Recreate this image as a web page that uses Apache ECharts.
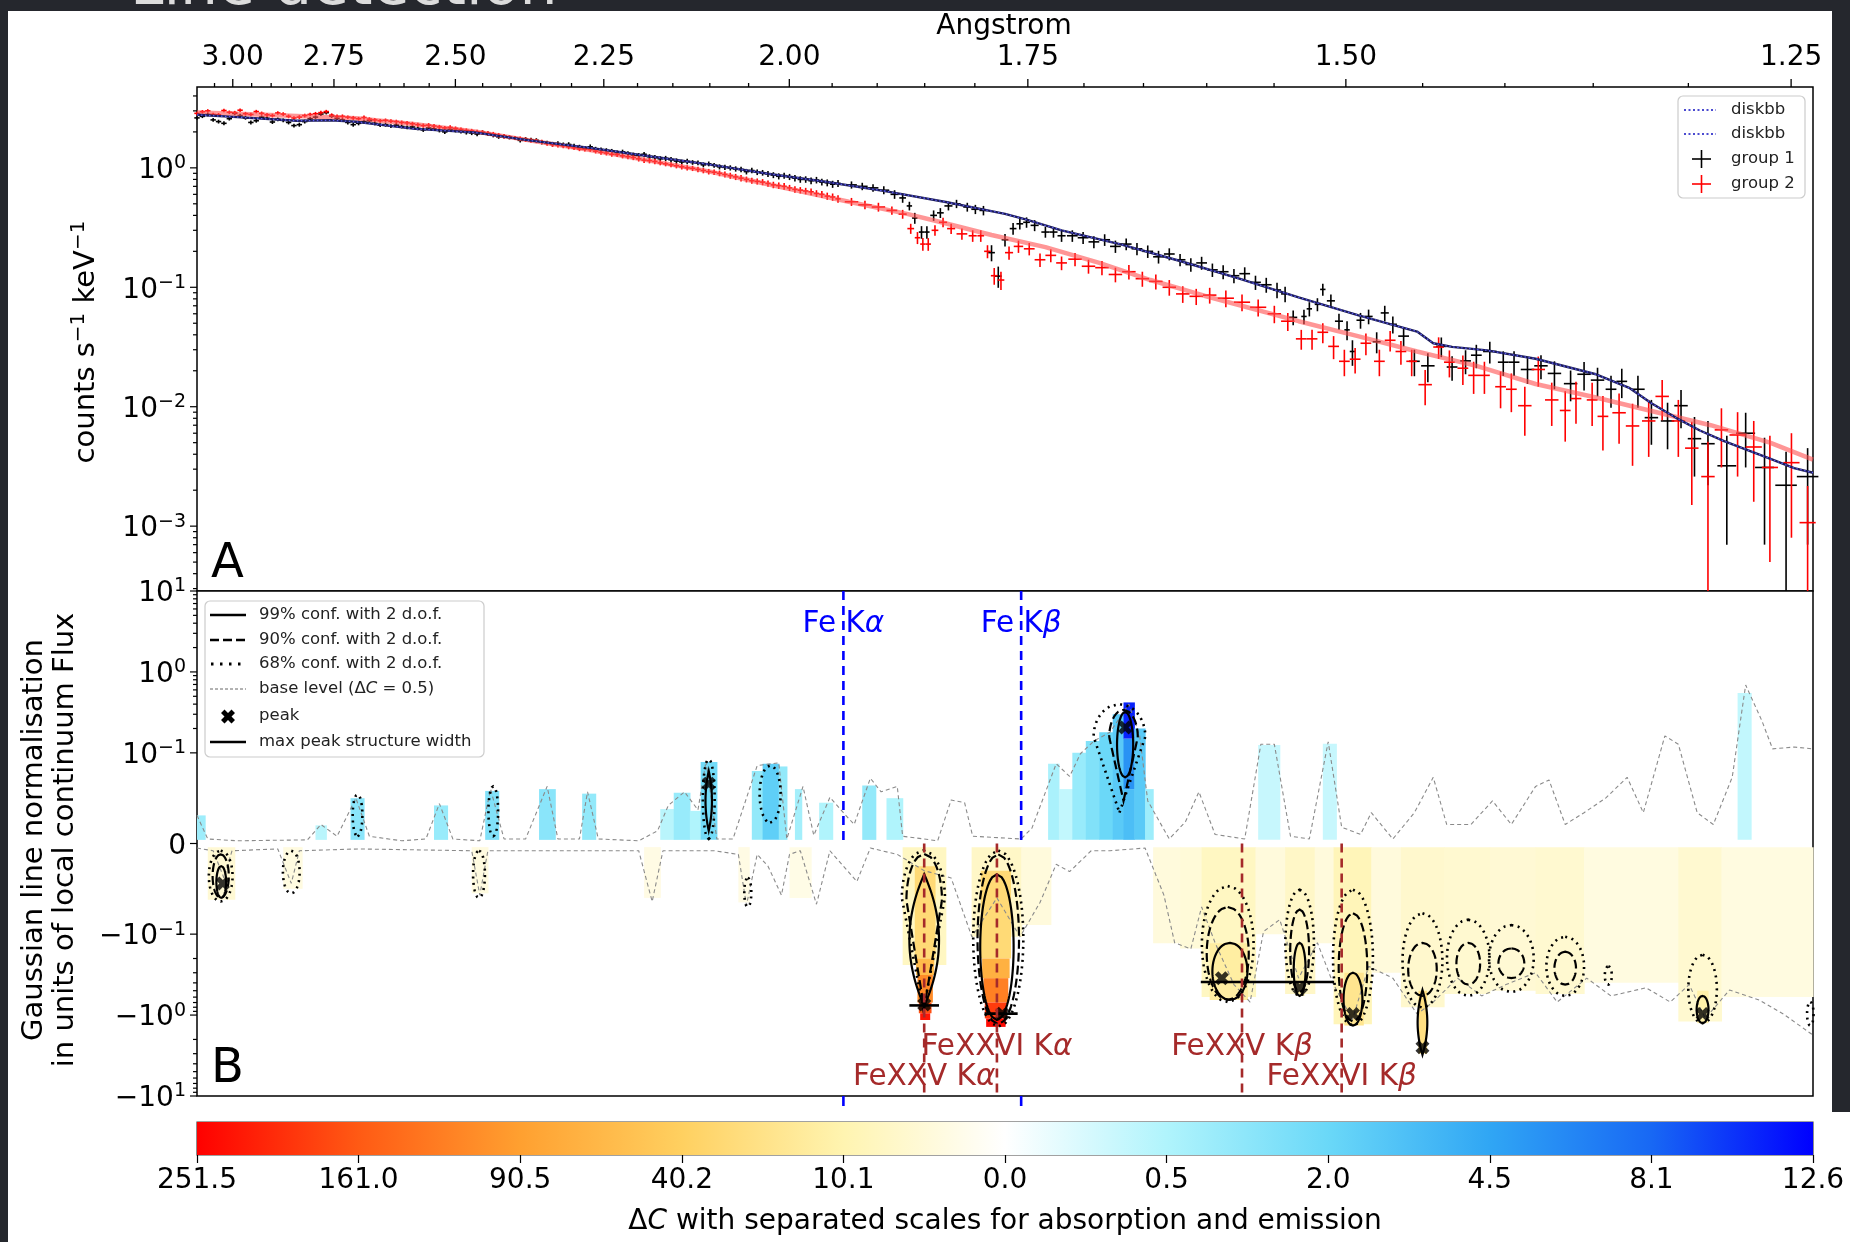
<!DOCTYPE html>
<html>
<head>
<meta charset="utf-8">
<title>Line detection</title>
<script src="https://cdn.jsdelivr.net/npm/echarts@6.0.0/dist/echarts.min.js"></script>
<style>
html, body { margin: 0; padding: 0; background: #ffffff; }
#chart { width: 1850px; height: 1242px; }
</style>
</head>
<body>
<div id="chart"></div>
<script>
// ---------------- axis furniture ----------------
const angstromMajor = [3.00, 2.75, 2.50, 2.25, 2.00, 1.75, 1.50, 1.25];
const angstromMinor = [3.05, 2.95, 2.90, 2.85, 2.80, 2.70, 2.65, 2.60, 2.55, 2.45, 2.40, 2.35, 2.30,
  2.20, 2.15, 2.10, 2.05, 1.95, 1.90, 1.85, 1.80, 1.70, 1.65, 1.60, 1.55, 1.45, 1.40, 1.35, 1.30];
const panelATicks = [1, 0.1, 0.01, 0.001];
const panelBTicks = [10, 1, 0.1, 0, -0.1, -1, -10];
const colorbarLabels = ['251.5', '161.0', '90.5', '40.2', '10.1', '0.0', '0.5', '2.0', '4.5', '8.1', '12.6'];

// ---------------- panel A: spectra (energy keV, counts/s/keV, error) ----------------
const group1 = [
  [4.00,2.62,0.09],[4.04,2.80,0.10],[4.08,2.44,0.09],[4.12,2.58,0.09],[4.16,2.74,0.10],[4.20,2.40,0.09],
  [4.24,2.66,0.09],[4.28,2.42,0.09],[4.32,2.50,0.09],[4.36,2.26,0.08],[4.40,2.44,0.09],[4.44,2.66,0.09],
  [4.48,2.90,0.10],[4.52,2.60,0.09],[4.56,2.40,0.09],[4.60,2.36,0.09],[4.64,2.48,0.09],[4.68,2.28,0.08],
  [4.72,2.24,0.08],[4.76,2.22,0.08],[4.80,2.20,0.08],[4.84,2.08,0.08],[4.88,2.12,0.08],[4.92,2.00,0.08],
  [4.96,2.06,0.08],[5.00,1.98,0.08],[5.04,1.92,0.08],[5.08,1.94,0.08],[5.12,1.82,0.07],[5.16,1.80,0.07],
  [5.20,1.70,0.07],[5.24,1.72,0.07],[5.28,1.64,0.07],[5.32,1.58,0.07],[5.36,1.56,0.07],[5.40,1.52,0.07],
  [5.44,1.46,0.06],[5.48,1.44,0.06],[5.52,1.40,0.06],[5.56,1.34,0.06],[5.60,1.32,0.06],[5.64,1.27,0.06],
  [5.68,1.24,0.06],[5.72,1.19,0.06],[5.76,1.17,0.06],[5.80,1.12,0.05],[5.84,1.11,0.05],[5.88,1.06,0.05],
  [5.92,1.05,0.05],[5.96,1.01,0.05],[6.00,0.98,0.05],[6.04,0.93,0.05],[6.08,0.92,0.05],[6.12,0.89,0.05],
  [6.16,0.85,0.05],[6.20,0.84,0.05],[6.24,0.80,0.05],[6.28,0.78,0.05],[6.32,0.76,0.05],[6.36,0.73,0.05],
  [4.02,2.70,0.09],[4.06,2.52,0.09],[4.10,2.36,0.09],[4.14,2.86,0.10],[4.18,2.62,0.09],[4.22,2.48,0.09],
  [4.26,2.60,0.09],[4.30,2.55,0.09],[4.34,2.40,0.09],[4.38,2.30,0.09],[4.42,2.58,0.09],[4.46,2.82,0.10],
  [4.50,2.72,0.10],[4.54,2.52,0.09],[4.58,2.30,0.09],[4.62,2.44,0.09],[4.66,2.36,0.09],[4.70,2.30,0.09],
  [4.74,2.28,0.09],[4.78,2.18,0.08],[4.82,2.14,0.08],[4.86,2.16,0.08],[4.90,2.06,0.08],[4.94,2.10,0.08],
  [4.98,2.02,0.08],[5.02,1.96,0.08],[5.06,1.98,0.08],[5.10,1.88,0.08],[5.14,1.84,0.08],[5.18,1.78,0.07],
  [5.22,1.74,0.07],[5.26,1.70,0.07],[5.30,1.62,0.07],[5.34,1.60,0.07],[5.38,1.57,0.07],[5.42,1.49,0.07],
  [5.46,1.50,0.07],[5.50,1.42,0.06],[5.54,1.38,0.06],[5.58,1.36,0.06],[5.62,1.28,0.06],[5.66,1.30,0.06],
  [5.70,1.22,0.06],[5.74,1.20,0.06],[5.78,1.14,0.06],[5.82,1.13,0.06],[5.86,1.10,0.05],[5.90,1.08,0.05],
  [5.94,1.02,0.05],[5.98,1.00,0.05],[6.02,0.97,0.05],[6.06,0.95,0.05],[6.10,0.91,0.05],[6.14,0.87,0.05],
  [6.18,0.86,0.05],[6.22,0.82,0.05],[6.26,0.80,0.05],[6.30,0.79,0.05],[6.34,0.75,0.05],[6.38,0.74,0.05],
  [6.43,0.72,0.05],[6.47,0.70,0.05],[6.51,0.68,0.05],[6.55,0.65,0.05],[6.59,0.60,0.05],[6.62,0.56,0.05],
  [6.645,0.48,0.04],[6.665,0.38,0.04],[6.69,0.29,0.035],[6.71,0.29,0.035],[6.735,0.40,0.04],[6.76,0.42,0.04],
  [6.79,0.48,0.04],[6.82,0.50,0.04],[6.86,0.47,0.04],[6.89,0.45,0.04],[6.92,0.44,0.04],[6.95,0.195,0.03],
  [6.975,0.124,0.025],[7.00,0.25,0.03],[7.03,0.31,0.035],[7.055,0.34,0.035],[7.08,0.35,0.035],[7.11,0.33,0.035],
  [7.15,0.29,0.03],[7.18,0.29,0.03],[7.21,0.27,0.03],[7.25,0.27,0.03],[7.29,0.26,0.03],[7.33,0.24,0.028],
  [7.37,0.25,0.028],[7.41,0.22,0.026],[7.45,0.23,0.026],[7.49,0.21,0.025],[7.53,0.20,0.024],[7.57,0.18,0.022],
  [7.61,0.19,0.022],[7.65,0.17,0.02],[7.69,0.155,0.02],[7.73,0.16,0.02],[7.77,0.14,0.018],[7.81,0.135,0.018],
  [7.85,0.125,0.017],[7.89,0.13,0.017],[7.93,0.11,0.015],[7.97,0.105,0.015],[8.01,0.095,0.014],[8.04,0.088,0.013],
  [8.07,0.056,0.008],[8.11,0.057,0.008],[8.13,0.066,0.009],[8.16,0.072,0.009],[8.18,0.096,0.011],[8.21,0.077,0.010],
  [8.24,0.052,0.008],[8.27,0.044,0.008],[8.29,0.029,0.007],[8.32,0.053,0.008],[8.35,0.057,0.008],[8.38,0.035,0.007],
  [8.41,0.061,0.009],[8.44,0.049,0.008],[8.48,0.039,0.007],[8.52,0.024,0.006],[8.57,0.022,0.006],[8.62,0.032,0.006],
  [8.66,0.0215,0.005],[8.71,0.0242,0.0055],[8.75,0.027,0.006],[8.80,0.029,0.006],[8.85,0.0236,0.0055],[8.89,0.0236,0.0055],
  [8.94,0.0205,0.005],[8.99,0.022,0.005],[9.04,0.019,0.005],[9.10,0.0156,0.0045],[9.15,0.0187,0.005],[9.20,0.0167,0.0045],
  [9.25,0.0140,0.0042],[9.29,0.0163,0.0045],[9.35,0.0140,0.0042],[9.40,0.0081,0.0033],[9.46,0.0076,0.0032],[9.51,0.0102,0.0036],
  [9.56,0.0054,0.0028],[9.61,0.0049,0.0027],[9.68,0.0032,0.0025],[9.75,0.0060,0.0029],[9.82,0.0031,0.0024],[9.90,0.0022,0.0020],
  [9.98,0.0026,0.0019]
];
const group2 = [
  [4.00,2.86,0.10],[4.04,3.00,0.10],[4.08,2.78,0.10],[4.12,2.92,0.10],[4.16,3.04,0.10],[4.20,2.80,0.10],
  [4.24,2.86,0.10],[4.28,2.74,0.10],[4.32,2.82,0.10],[4.36,2.62,0.09],[4.40,2.74,0.10],[4.44,2.84,0.10],
  [4.48,2.96,0.10],[4.52,2.70,0.10],[4.56,2.66,0.09],[4.60,2.58,0.09],[4.64,2.56,0.09],[4.68,2.48,0.09],
  [4.72,2.46,0.09],[4.76,2.40,0.09],[4.80,2.34,0.09],[4.84,2.26,0.09],[4.88,2.24,0.09],[4.92,2.16,0.08],
  [4.96,2.14,0.08],[5.00,2.06,0.08],[5.04,2.00,0.08],[5.08,1.95,0.08],[5.12,1.88,0.08],[5.16,1.81,0.07],
  [5.20,1.76,0.07],[5.24,1.69,0.07],[5.28,1.65,0.07],[5.32,1.57,0.07],[5.36,1.53,0.07],[5.40,1.47,0.06],
  [5.44,1.43,0.06],[5.48,1.38,0.06],[5.52,1.33,0.06],[5.56,1.29,0.06],[5.60,1.24,0.06],[5.64,1.19,0.06],
  [5.68,1.15,0.06],[5.72,1.10,0.05],[5.76,1.06,0.05],[5.80,1.02,0.05],[5.84,0.99,0.05],[5.88,0.95,0.05],
  [5.92,0.92,0.05],[5.96,0.88,0.05],[6.00,0.84,0.05],[6.04,0.80,0.045],[6.08,0.77,0.045],[6.12,0.74,0.045],
  [6.16,0.71,0.045],[6.20,0.68,0.04],[6.24,0.65,0.04],[6.28,0.63,0.04],[6.32,0.60,0.04],[6.36,0.57,0.04],
  [4.02,2.95,0.10],[4.06,2.80,0.10],[4.10,3.02,0.10],[4.14,2.90,0.10],[4.18,2.84,0.10],[4.22,2.96,0.10],
  [4.26,2.78,0.10],[4.30,2.88,0.10],[4.34,2.70,0.10],[4.38,2.66,0.10],[4.42,2.80,0.10],[4.46,2.90,0.10],
  [4.50,2.76,0.10],[4.54,2.70,0.10],[4.58,2.62,0.10],[4.62,2.64,0.10],[4.66,2.52,0.09],[4.70,2.50,0.09],
  [4.74,2.44,0.09],[4.78,2.38,0.09],[4.82,2.30,0.09],[4.86,2.28,0.09],[4.90,2.20,0.09],[4.94,2.18,0.09],
  [4.98,2.10,0.08],[5.02,2.04,0.08],[5.06,1.98,0.08],[5.10,1.92,0.08],[5.14,1.84,0.08],[5.18,1.78,0.07],
  [5.22,1.72,0.07],[5.26,1.68,0.07],[5.30,1.60,0.07],[5.34,1.55,0.07],[5.38,1.50,0.07],[5.42,1.44,0.06],
  [5.46,1.42,0.06],[5.50,1.35,0.06],[5.54,1.30,0.06],[5.58,1.26,0.06],[5.62,1.22,0.06],[5.66,1.16,0.06],
  [5.70,1.13,0.06],[5.74,1.08,0.05],[5.78,1.04,0.05],[5.82,1.00,0.05],[5.86,0.97,0.05],[5.90,0.93,0.05],
  [5.94,0.90,0.05],[5.98,0.86,0.05],[6.02,0.82,0.05],[6.06,0.78,0.045],[6.10,0.76,0.045],[6.14,0.72,0.045],
  [6.18,0.70,0.045],[6.22,0.66,0.04],[6.26,0.64,0.04],[6.30,0.61,0.04],[6.34,0.58,0.04],[6.38,0.55,0.04],
  [6.43,0.52,0.04],[6.48,0.49,0.04],[6.53,0.47,0.04],[6.58,0.44,0.035],[6.62,0.41,0.035],[6.65,0.31,0.03],
  [6.675,0.26,0.03],[6.695,0.23,0.028],[6.715,0.23,0.028],[6.74,0.30,0.03],[6.77,0.35,0.032],[6.80,0.31,0.03],
  [6.84,0.28,0.03],[6.88,0.27,0.03],[6.91,0.27,0.03],[6.935,0.20,0.025],[6.96,0.125,0.02],[6.985,0.115,0.02],
  [7.015,0.195,0.025],[7.05,0.22,0.026],[7.09,0.21,0.025],[7.13,0.17,0.022],[7.17,0.185,0.023],[7.21,0.16,0.021],
  [7.26,0.172,0.022],[7.31,0.15,0.02],[7.36,0.146,0.02],[7.41,0.128,0.018],[7.46,0.135,0.019],[7.51,0.118,0.017],
  [7.56,0.112,0.016],[7.61,0.100,0.015],[7.66,0.088,0.014],[7.71,0.084,0.013],[7.76,0.086,0.013],[7.82,0.081,0.013],
  [7.88,0.075,0.012],[7.94,0.068,0.011],[8.00,0.060,0.010],[8.05,0.052,0.009],[8.10,0.037,0.007],[8.14,0.037,0.007],
  [8.18,0.042,0.008],[8.22,0.032,0.007],[8.26,0.024,0.006],[8.30,0.025,0.006],[8.34,0.034,0.007],[8.39,0.024,0.006],
  [8.43,0.036,0.007],[8.47,0.029,0.0065],[8.51,0.024,0.006],[8.56,0.0153,0.005],[8.61,0.0316,0.0065],[8.65,0.0236,0.006],
  [8.70,0.021,0.0058],[8.74,0.0183,0.0055],[8.78,0.0183,0.0055],[8.84,0.0147,0.005],[8.88,0.014,0.005],[8.93,0.0102,0.0045],
  [8.98,0.0205,0.0058],[9.03,0.0114,0.0045],[9.08,0.0093,0.0042],[9.12,0.0117,0.0045],[9.18,0.0114,0.0045],[9.22,0.0083,0.004],
  [9.28,0.0089,0.004],[9.33,0.0069,0.0037],[9.39,0.0076,0.0038],[9.44,0.0122,0.0045],[9.50,0.0076,0.0038],[9.55,0.0045,0.003],
  [9.61,0.0026,0.0025],[9.66,0.0064,0.0033],[9.72,0.0058,0.0032],[9.78,0.0046,0.003],[9.84,0.0031,0.0026],[9.92,0.0034,0.0026],
  [9.98,0.00107,0.0011]
];
const model1 = [
  [4.00,2.78],[4.15,2.66],[4.37,2.48],[4.50,2.50],[4.59,2.43],[4.81,2.12],[5.03,1.98],[5.24,1.69],[5.46,1.47],
  [5.68,1.25],[5.90,1.07],[6.12,0.893],[6.34,0.762],[6.56,0.635],[6.78,0.518],[7.00,0.412],[7.08,0.368],
  [7.21,0.300],[7.43,0.229],[7.65,0.166],[7.87,0.118],[8.09,0.0822],[8.31,0.0585],[8.53,0.0426],[8.59,0.0340],
  [8.66,0.0317],[8.79,0.0296],[8.97,0.0252],[9.19,0.0188],[9.32,0.0143],[9.40,0.0107],[9.49,0.00811],
  [9.58,0.00632],[9.67,0.00515],[9.75,0.00440],[9.84,0.00367],[9.93,0.00306],[10.0,0.00280]
];
const model2 = [
  [4.00,2.91],[4.15,2.84],[4.37,2.72],[4.59,2.60],[4.81,2.32],[5.03,2.02],[5.24,1.69],[5.46,1.41],[5.68,1.15],
  [5.90,0.934],[6.06,0.78],[6.42,0.52],[6.64,0.41],[6.76,0.352],[6.95,0.274],[7.15,0.217],[7.35,0.160],
  [7.54,0.115],[7.74,0.085],[8.09,0.052],[8.31,0.039],[8.53,0.029],[8.75,0.022],[8.97,0.0155],[9.19,0.0120],
  [9.40,0.0092],[9.62,0.0070],[9.84,0.0050],[10.0,0.0036]
];

// ---------------- panel B: line scan (energy keV, normalisation) ----------------
const baseUp = [
  [4.00,0.031],[4.04,0.005],[4.15,0.003],[4.41,0.004],[4.46,0.021],[4.52,0.008],[4.59,0.050],[4.64,0.008],
  [4.76,0.003],[4.85,0.005],[4.90,0.044],[4.95,0.005],[5.05,0.003],[5.09,0.060],[5.14,0.005],[5.22,0.005],
  [5.30,0.063],[5.34,0.005],[5.42,0.005],[5.45,0.057],[5.49,0.005],[5.64,0.003],[5.71,0.014],[5.75,0.042],
  [5.81,0.057],[5.86,0.037],[5.89,0.091],[5.93,0.005],[5.99,0.005],[6.08,0.086],[6.16,0.089],[6.19,0.005],
  [6.25,0.063],[6.29,0.009],[6.35,0.051],[6.40,0.034],[6.44,0.021],[6.50,0.072],[6.54,0.057],[6.60,0.063],
  [6.62,0.008],[6.75,0.003],[6.80,0.048],[6.85,0.045],[6.88,0.008],[7.06,0.005],[7.10,0.017],[7.19,0.088],
  [7.24,0.074],[7.28,0.099],[7.33,0.14],[7.39,0.18],[7.46,0.40],[7.50,0.162],[7.53,0.047],[7.61,0.005],
  [7.67,0.024],[7.72,0.057],[7.78,0.010],[7.89,0.005],[7.95,0.128],[8.00,0.128],[8.06,0.008],[8.13,0.005],
  [8.20,0.137],[8.25,0.018],[8.32,0.010],[8.36,0.034],[8.44,0.005],[8.52,0.034],[8.59,0.073],[8.64,0.021],
  [8.73,0.021],[8.81,0.047],[8.88,0.021],[8.97,0.063],[9.02,0.070],[9.08,0.021],[9.15,0.034],[9.23,0.050],
  [9.31,0.073],[9.37,0.034],[9.45,0.162],[9.50,0.128],[9.57,0.034],[9.63,0.021],[9.70,0.073],[9.75,0.69],
  [9.81,0.25],[9.85,0.112],[9.93,0.118],[10.0,0.112]
];
const baseDown = [
  [4.00,-0.005],[4.06,-0.008],[4.10,-0.038],[4.13,-0.008],[4.30,-0.006],[4.35,-0.044],[4.38,-0.008],
  [4.60,-0.006],[5.02,-0.008],[5.05,-0.057],[5.08,-0.008],[5.64,-0.008],[5.69,-0.064],[5.73,-0.008],
  [5.92,-0.008],[6.01,-0.012],[6.04,-0.068],[6.08,-0.012],[6.12,-0.025],[6.17,-0.057],[6.20,-0.012],
  [6.24,-0.008],[6.30,-0.067],[6.35,-0.008],[6.45,-0.042],[6.50,-0.005],[6.60,-0.012],[6.70,-0.03],
  [6.80,-0.038],[6.877,-0.108],[6.97,-0.06],[7.056,-0.108],[7.13,-0.065],[7.19,-0.023],[7.24,-0.031],
  [7.32,-0.008],[7.39,-0.008],[7.52,-0.005],[7.59,-0.057],[7.63,-0.128],[7.69,-0.152],[7.73,-0.070],
  [7.78,-0.128],[7.85,-0.42],[7.91,-0.69],[7.96,-0.097],[8.02,-0.084],[8.09,-0.35],[8.16,-0.128],
  [8.22,-0.42],[8.29,-1.14],[8.35,-0.25],[8.44,-0.35],[8.53,-0.97],[8.59,-0.69],[8.68,-0.35],[8.77,-0.58],
  [8.86,-0.42],[8.97,-0.30],[9.05,-0.69],[9.16,-0.35],[9.25,-0.58],[9.38,-0.46],[9.47,-0.69],[9.54,-0.42],
  [9.60,-1.1],[9.69,-0.49],[9.80,-0.65],[9.89,-0.97],[10.0,-1.77]
];
// [E from, E to, norm from, norm to, delta C]
const emissionCells = [
  [4.00,4.03,0.004,0.031,0.8],[4.44,4.48,0.004,0.020,0.4],[4.57,4.62,0.004,0.050,1.2],[4.88,4.93,0.004,0.042,0.9],
  [5.07,5.12,0.004,0.058,1.4],[5.27,5.33,0.004,0.060,1.2],[5.43,5.48,0.004,0.055,1.0],[5.72,5.77,0.004,0.038,0.4],
  [5.77,5.83,0.004,0.056,0.9],[5.83,5.87,0.004,0.036,0.5],[5.87,5.93,0.004,0.090,1.8],[6.06,6.10,0.004,0.080,1.0],
  [6.10,6.16,0.004,0.088,2.4],[6.16,6.19,0.004,0.085,1.0],[6.22,6.245,0.004,0.060,0.7],[6.31,6.36,0.004,0.045,0.5],
  [6.47,6.52,0.004,0.064,1.0],[6.56,6.62,0.004,0.050,0.5],[7.16,7.20,0.004,0.088,0.6],[7.20,7.25,0.004,0.060,0.3],
  [7.25,7.30,0.004,0.100,0.9],[7.30,7.35,0.004,0.140,1.4],[7.35,7.40,0.004,0.180,2.0],[7.40,7.44,0.004,0.300,2.6],
  [7.44,7.48,0.004,0.060,3.2],[7.44,7.48,0.060,0.150,5.5],[7.44,7.48,0.150,0.420,11.0],
  [7.48,7.52,0.004,0.200,2.6],[7.52,7.55,0.004,0.060,0.8],[7.94,8.02,0.004,0.125,0.25],[8.18,8.23,0.004,0.130,0.25],
  [9.72,9.77,0.004,0.550,0.3]
];
const absorptionCells = [
  [4.04,4.14,-0.004,-0.062,3],[4.32,4.39,-0.004,-0.050,1.5],[5.02,5.08,-0.004,-0.055,1.5],[5.66,5.72,-0.004,-0.060,1.2],
  [6.01,6.05,-0.004,-0.065,1.2],[6.20,6.28,-0.004,-0.060,1.0],
  [6.62,6.78,-0.004,-0.24,6],[6.665,6.74,-0.025,-0.20,30],[6.67,6.735,-0.20,-0.32,60],[6.675,6.73,-0.32,-0.70,110],
  [6.68,6.725,-0.70,-0.95,170],[6.685,6.72,-0.95,-1.15,230],
  [6.876,7.062,-0.004,-0.108,5],[6.91,7.02,-0.03,-0.20,30],[6.915,7.015,-0.20,-0.35,70],[6.92,7.01,-0.35,-0.70,120],
  [6.925,7.005,-0.70,-1.10,190],[6.93,7.00,-1.10,-1.40,240],
  [7.06,7.17,-0.004,-0.090,2],
  [7.55,7.65,-0.004,-0.13,2],[7.65,7.73,-0.004,-0.15,2.5],[7.73,7.93,-0.004,-0.60,6],[7.76,7.90,-0.13,-0.65,14],
  [7.93,8.04,-0.004,-0.10,2],[8.04,8.15,-0.004,-0.55,5],[8.08,8.11,-0.13,-0.58,12],[8.15,8.22,-0.004,-0.13,2],
  [8.22,8.36,-0.004,-1.30,8],[8.26,8.33,-0.30,-1.35,20],[8.36,8.47,-0.004,-0.30,2],[8.47,8.63,-0.004,-0.80,4],
  [8.535,8.565,-0.50,-3.0,25],[8.63,8.80,-0.004,-0.55,3.5],[8.80,8.97,-0.004,-0.50,3],[8.97,9.15,-0.004,-0.55,3.5],
  [9.15,9.50,-0.004,-0.40,1.5],[9.50,9.66,-0.004,-1.20,3.5],[9.57,9.61,-0.50,-1.26,12],[9.66,10.0,-0.004,-0.60,1.5]
];
// [E centre, half width keV, norm near zero, norm far, level (0: 99%, 1: 90%, 2: 68%), outline (0 oval, 1 lens, 2 tip far, 3 tip near)]
const contours = [
  [4.596,0.018,0.008,0.054,2,0],[5.10,0.018,0.008,0.063,2,0],[5.90,0.022,0.005,0.093,2,0],[5.90,0.012,0.014,0.080,0,1],
  [6.128,0.039,0.023,0.086,2,0],[7.425,0.096,0.034,0.40,2,3],[7.44,0.053,0.047,0.34,1,3],[7.446,0.030,0.073,0.32,0,0],
  [4.088,0.044,-0.008,-0.064,2,0],[4.088,0.030,-0.012,-0.060,1,0],[4.09,0.018,-0.025,-0.060,0,0],
  [4.35,0.031,-0.008,-0.055,2,0],[5.047,0.022,-0.008,-0.060,2,0],[6.045,0.013,-0.038,-0.070,2,0],
  [6.697,0.080,-0.0077,-0.85,2,2],[6.70,0.066,-0.0116,-0.83,1,2],[6.70,0.055,-0.034,-0.77,0,1],
  [6.975,0.093,-0.0077,-1.39,2,0],[6.975,0.077,-0.012,-1.30,1,0],[6.97,0.062,-0.034,-1.15,0,0],
  [7.827,0.096,-0.047,-0.69,2,0],[7.827,0.078,-0.070,-0.65,1,0],[7.835,0.065,-0.128,-0.65,0,0],
  [8.094,0.053,-0.051,-0.58,2,0],[8.094,0.035,-0.073,-0.52,1,0],[8.094,0.022,-0.128,-0.58,0,0],
  [8.292,0.074,-0.051,-1.35,2,0],[8.292,0.053,-0.077,-1.20,1,0],[8.292,0.035,-0.30,-1.35,0,0],
  [8.55,0.074,-0.077,-0.81,2,0],[8.55,0.053,-0.128,-0.58,1,0],[8.55,0.018,-0.49,-3.1,0,1],
  [8.72,0.079,-0.084,-0.58,2,0],[8.72,0.044,-0.128,-0.42,1,0],[8.88,0.083,-0.090,-0.52,2,0],[8.88,0.048,-0.15,-0.35,1,0],
  [9.08,0.070,-0.108,-0.58,2,0],[9.08,0.040,-0.165,-0.42,1,0],[9.24,0.013,-0.25,-0.42,2,0],
  [9.59,0.053,-0.18,-1.26,2,0],[9.59,0.022,-0.58,-1.26,0,0],[9.99,0.012,-0.69,-1.35,2,0]
];
const peaks = [[4.096,-0.044],[5.90,0.066],[7.446,0.206],[6.70,-0.74],[6.99,-0.96],[7.805,-0.35],
  [8.094,-0.46],[8.292,-0.97],[8.55,-2.5],[9.59,-0.97]];
const peakWidths = [[6.645,6.755,-0.76],[6.924,7.047,-0.96],[7.727,8.222,-0.39]];
const lineEnergies = [6.40, 7.06, 6.70, 6.97, 7.88, 8.25];
const lineLabels = ['Fe Kα', 'Fe Kβ', 'FeXXV Kα', 'FeXXVI Kα', 'FeXXV Kβ', 'FeXXVI Kβ'];
const lineIonised = [false, false, true, true, true, true];

// ---------------- helpers ----------------
const FONT = '"DejaVu Sans", "Noto Sans", sans-serif';
const HC = 12.3984;               // keV * Angstrom
const E_MIN = 4, E_MAX = 10;
const A_MIN = 2.864e-4, A_MAX = 4.753;
const LIN = 1.12;                 // height of the linear part of the symmetric-log scale (in decades)
const B_LIM = LIN + 2;
function symlog(v) {
  const a = Math.abs(v);
  const t = a <= 0.1 ? LIN * a / 0.1 : LIN + Math.log10(a / 0.1);
  return v < 0 ? -t : t;
}
const absColors = ['#ffffff', '#fff4b0', '#ffd060', '#ffa030', '#ff5a14', '#ff0000'];
const emiColors = ['#ffffff', '#b0f4fc', '#6ad8f8', '#30a6f4', '#1868f4', '#0000ff'];
function cellColor(dC, sign) {
  if (sign < 0) return echarts.color.lerp(Math.min(1, Math.sqrt(dC / 251.5)), absColors);
  return echarts.color.lerp(Math.min(1, Math.sqrt(dC / 12.6)), emiColors);
}
const RICH_Z = {
  b: { fontSize: 28, fontFamily: FONT, fill: '#000', lineHeight: 34 },
  s: { fontSize: 19, fontFamily: FONT, fill: '#000', lineHeight: 14, verticalAlign: 'top' }
};
function powLabel(v) {
  if (v === 0) return '{b|0}';
  const k = Math.round(Math.log10(Math.abs(v)));
  return '{b|' + (v < 0 ? '−' : '') + '10}{s|' + (k < 0 ? '−' : '') + Math.abs(k) + '}';
}
// bins sorted by energy; each cross spans half the distance to its nearest neighbour
function withHalfWidths(points) {
  const pts = points.slice().sort((a, b) => a[0] - b[0]);
  return pts.map((p, i) => {
    const prev = i > 0 ? p[0] - pts[i - 1][0] : Infinity;
    const next = i < pts.length - 1 ? pts[i + 1][0] - p[0] : Infinity;
    return [p[0], p[1], p[2], Math.min(prev, next) / 2];
  });
}
function crossRenderer(color) {
  return function (params, api) {
    const E = api.value(0), v = api.value(1), err = api.value(2), hw = api.value(3);
    const c = api.coord([E, v]);
    const l = api.coord([E - hw, v]), r = api.coord([E + hw, v]);
    const t = api.coord([E, v + err]), b = api.coord([E, Math.max(v - err, A_MIN)]);
    return { type: 'group', children: [
      { type: 'line', shape: { x1: l[0], y1: c[1], x2: r[0], y2: c[1] }, style: { stroke: color, lineWidth: 1.6 } },
      { type: 'line', shape: { x1: c[0], y1: t[1], x2: c[0], y2: b[1] }, style: { stroke: color, lineWidth: 1.6 } }
    ] };
  };
}
const panelAMinor = [];
for (let k = -4; k <= 0; k++) for (let m = 2; m <= 9; m++) {
  const v = m * Math.pow(10, k);
  if (v > A_MIN && v < A_MAX) panelAMinor.push(v);
}
const panelBMinor = [];
for (let k = -1; k <= 0; k++) for (let m = 2; m <= 9; m++) {
  panelBMinor.push(m * Math.pow(10, k), -m * Math.pow(10, k));
}
const dashFor = [null, [9, 4], [2, 4.5]];
function outlineWidth(shape, t) {
  if (shape === 1) return 1 - Math.pow(2 * t - 1, 2);
  if (shape === 2) return t < 0.3 ? Math.sqrt(Math.max(0, 1 - Math.pow((0.3 - t) / 0.3, 2))) : 1 - (t - 0.3) / 0.7;
  if (shape === 3) { const u = 1 - t; return u < 0.3 ? Math.sqrt(Math.max(0, 1 - Math.pow((0.3 - u) / 0.3, 2))) : 1 - (u - 0.3) / 0.7; }
  return Math.sqrt(Math.max(0, 1 - Math.pow(2 * t - 1, 2)));
}
// filled "X" peak marker, 10x10 unit outline
const X_MARK = [[0,2.5],[2.5,0],[5,2.5],[7.5,0],[10,2.5],[7.5,5],[10,7.5],[7.5,10],[5,7.5],[2.5,10],[0,7.5],[2.5,5]];
const barStops = absColors.slice().reverse().concat(emiColors.slice(1))
  .map((c, k, arr) => ({ offset: k / (arr.length - 1), color: c }));
const LABEL_FONT = 29.5;

// ---------------- chart ----------------
const chart = echarts.init(document.getElementById('chart'), null, { renderer: 'canvas' });
const option = {
  animation: false,
  backgroundColor: '#ffffff',
  grid: [
    { left: 197, top: 87, width: 1616, height: 504, show: true, borderColor: '#000', borderWidth: 1.5, backgroundColor: '#fff' },
    { left: 197, top: 591, width: 1616, height: 505, show: true, borderColor: '#000', borderWidth: 1.5, backgroundColor: '#fff' },
    { left: 197, top: 1122, width: 1616, height: 33, show: true, borderColor: '#444', borderWidth: 1.2 }
  ],
  xAxis: [
    { gridIndex: 0, type: 'value', min: E_MIN, max: E_MAX, show: false },
    { gridIndex: 1, type: 'value', min: E_MIN, max: E_MAX, show: false },
    { gridIndex: 2, type: 'value', min: 0, max: 10, interval: 1, position: 'bottom',
      axisLine: { show: false }, splitLine: { show: false },
      axisTick: { show: true, length: 8, lineStyle: { color: '#000', width: 1.2 } },
      axisLabel: { formatter: v => colorbarLabels[Math.round(v)], fontSize: 28, fontFamily: FONT, color: '#000',
        margin: 12, showMinLabel: true, showMaxLabel: true, hideOverlap: false },
      name: 'Δ{i|C} with separated scales for absorption and emission', nameLocation: 'middle', nameGap: 53,
      nameTextStyle: { fontSize: 28, fontFamily: FONT, color: '#000',
        rich: { i: { fontSize: 28, fontFamily: FONT, color: '#000', fontStyle: 'italic' } } } }
  ],
  yAxis: [
    { gridIndex: 0, type: 'log', logBase: 10, min: A_MIN, max: A_MAX, show: false },
    { gridIndex: 1, type: 'value', min: -B_LIM, max: B_LIM, show: false },
    { gridIndex: 2, type: 'value', min: 0, max: 1, show: false }
  ],
  series: [
    // top Angstrom axis
    { type: 'custom', xAxisIndex: 0, yAxisIndex: 0, silent: true, clip: false, z: 5,
      encode: { x: 0, y: 1 },
      data: angstromMajor.map(l => [HC / l, l, 1]).concat(angstromMinor.map(l => [HC / l, l, 0])),
      renderItem(params, api) {
        const cs = params.coordSys, major = api.value(2);
        const x = api.coord([api.value(0), 1])[0];
        const ch = [{ type: 'line', shape: { x1: x, y1: cs.y, x2: x, y2: cs.y - (major ? 8 : 4) },
          style: { stroke: '#000', lineWidth: 1.3 } }];
        if (major) ch.push({ type: 'text', x: x, y: cs.y - 29,
          style: { text: api.value(1).toFixed(2), font: '28px ' + FONT, fill: '#000', align: 'center', verticalAlign: 'middle' } });
        return { type: 'group', children: ch };
      } },
    // panel A y ticks and labels
    { type: 'custom', xAxisIndex: 0, yAxisIndex: 0, silent: true, clip: false, z: 5,
      encode: { x: 0, y: 1 },
      data: panelATicks.map(v => [E_MIN, v, 1]).concat(panelAMinor.map(v => [E_MIN, v, 0])),
      renderItem(params, api) {
        const v = api.value(1), major = api.value(2);
        const p = api.coord([E_MIN, v]);
        const ch = [{ type: 'line', shape: { x1: p[0] - (major ? 7 : 4), y1: p[1], x2: p[0], y2: p[1] },
          style: { stroke: '#000', lineWidth: 1.2 } }];
        if (major) ch.push({ type: 'text', x: p[0] - 11, y: p[1] + 3,
          style: { text: powLabel(v), rich: RICH_Z, align: 'right', verticalAlign: 'middle' } });
        return { type: 'group', children: ch };
      } },
    // panel B y ticks and labels
    { type: 'custom', xAxisIndex: 1, yAxisIndex: 1, silent: true, clip: false, z: 5,
      encode: { x: 0, y: 1 },
      data: panelBTicks.map(v => [E_MIN, symlog(v), 1, v]).concat(panelBMinor.map(v => [E_MIN, symlog(v), 0, v])),
      renderItem(params, api) {
        const major = api.value(2);
        const p = api.coord([E_MIN, api.value(1)]);
        const ch = [{ type: 'line', shape: { x1: p[0] - (major ? 7 : 4), y1: p[1], x2: p[0], y2: p[1] },
          style: { stroke: '#000', lineWidth: 1.2 } }];
        if (major) ch.push({ type: 'text', x: p[0] - 11, y: p[1] + 3,
          style: { text: powLabel(api.value(3)), rich: RICH_Z, align: 'right', verticalAlign: 'middle' } });
        return { type: 'group', children: ch };
      } },
    // spectra
    { type: 'custom', name: 'group 1', xAxisIndex: 0, yAxisIndex: 0, silent: true, z: 3, encode: { x: 0, y: 1 },
      data: withHalfWidths(group1), renderItem: crossRenderer('#000000') },
    { type: 'custom', name: 'group 2', xAxisIndex: 0, yAxisIndex: 0, silent: true, z: 3, encode: { x: 0, y: 1 },
      data: withHalfWidths(group2), renderItem: crossRenderer('#ff0000') },
    { type: 'line', name: 'diskbb', xAxisIndex: 0, yAxisIndex: 0, data: model2, symbol: 'none', silent: true, z: 4,
      lineStyle: { color: '#ff5050', width: 4.5, opacity: 0.6 } },
    { type: 'line', name: 'diskbb', xAxisIndex: 0, yAxisIndex: 0, data: model1, symbol: 'none', silent: true, z: 4,
      lineStyle: { color: '#1c1c58', width: 2.4 } },
    { type: 'line', xAxisIndex: 0, yAxisIndex: 0, data: model1, symbol: 'none', silent: true, z: 4,
      lineStyle: { color: '#5c5cf0', width: 1.3, type: [1.5, 2.5] } },
    // delta-C map
    { type: 'custom', xAxisIndex: 1, yAxisIndex: 1, silent: true, z: 2, encode: { x: [0, 1], y: [2, 3] },
      data: emissionCells.concat(absorptionCells).map(c => [c[0], c[1], symlog(c[2]), symlog(c[3]), c[4]]),
      renderItem(params, api) {
        const p0 = api.coord([api.value(0), api.value(2)]);
        const p1 = api.coord([api.value(1), api.value(3)]);
        return { type: 'rect',
          shape: { x: Math.min(p0[0], p1[0]), y: Math.min(p0[1], p1[1]), width: Math.abs(p1[0] - p0[0]) + 0.6, height: Math.abs(p1[1] - p0[1]) },
          style: { fill: cellColor(api.value(4), api.value(3)) } };
      } },
    // base levels
    { type: 'line', xAxisIndex: 1, yAxisIndex: 1, symbol: 'none', silent: true, z: 3,
      data: baseUp.map(p => [p[0], symlog(p[1])]), lineStyle: { color: '#8a8a8a', width: 1.1, type: [4, 3] } },
    { type: 'line', xAxisIndex: 1, yAxisIndex: 1, symbol: 'none', silent: true, z: 3,
      data: baseDown.map(p => [p[0], symlog(p[1])]), lineStyle: { color: '#8a8a8a', width: 1.1, type: [4, 3] } },
    // confidence contours
    { type: 'custom', xAxisIndex: 1, yAxisIndex: 1, silent: true, z: 4, encode: { x: 0, y: 2 },
      data: contours.map(c => [c[0], c[1], symlog(c[2]), symlog(c[3]), c[4], c[5]]),
      renderItem(params, api) {
        const E = api.value(0), hw = api.value(1), sn = api.value(2), sf = api.value(3);
        const lev = api.value(4), shape = api.value(5);
        const pn = api.coord([E, sn]), pf = api.coord([E, sf]);
        const half = api.coord([E + hw, sn])[0] - pn[0];
        const right = [], left = [];
        const N = 48;
        for (let i = 0; i <= N; i++) {
          const t = i / N, y = pn[1] + (pf[1] - pn[1]) * t, w = half * outlineWidth(shape, t);
          right.push([pn[0] + w, y]);
          left.unshift([pn[0] - w, y]);
        }
        return { type: 'polygon', shape: { points: right.concat(left) },
          style: { fill: null, stroke: '#000', lineWidth: lev === 2 ? 2.6 : 2.2, lineDash: dashFor[lev] } };
      } },
    // maximum peak structure width
    { type: 'custom', xAxisIndex: 1, yAxisIndex: 1, silent: true, z: 5, encode: { x: [0, 1], y: 2 },
      data: peakWidths.map(w => [w[0], w[1], symlog(w[2])]),
      renderItem(params, api) {
        const a = api.coord([api.value(0), api.value(2)]), b = api.coord([api.value(1), api.value(2)]);
        return { type: 'line', shape: { x1: a[0], y1: a[1], x2: b[0], y2: b[1] }, style: { stroke: '#000', lineWidth: 2.6 } };
      } },
    // peaks
    { type: 'scatter', xAxisIndex: 1, yAxisIndex: 1, silent: true, z: 6,
      data: peaks.map(p => [p[0], symlog(p[1])]),
      symbol: 'path://M0,2.5 L2.5,0 L5,2.5 L7.5,0 L10,2.5 L7.5,5 L10,7.5 L7.5,10 L5,7.5 L2.5,10 L0,7.5 L2.5,5 Z',
      symbolSize: 14, itemStyle: { color: '#000' } },
    // known iron transitions
    { type: 'custom', xAxisIndex: 1, yAxisIndex: 1, silent: true, clip: false, z: 7, encode: { x: 0, y: 1 },
      data: lineEnergies.map((E, i) => [E, 0, i]),
      renderItem(params, api) {
        const cs = params.coordSys, i = api.value(2);
        const p = api.coord([api.value(0), 0]);
        const ion = lineIonised[i];
        const color = ion ? '#a52a2a' : '#0000ff';
        const dash = { stroke: color, lineWidth: 2.6, lineDash: [9, 6] };
        const text = lineLabels[i].replace(/([αβ])/, '{i|$1}');
        const rich = { i: { fontStyle: 'italic', fontSize: LABEL_FONT, fontFamily: FONT, fill: color } };
        const bottom = cs.y + cs.height;
        const ch = [];
        if (ion) {
          ch.push({ type: 'line', shape: { x1: p[0], y1: p[1], x2: p[0], y2: bottom }, style: dash });
          const row = (i === 2 || i === 5) ? 19 : 49;
          ch.push({ type: 'text', x: p[0], y: bottom - row,
            style: { text: text, rich: rich, font: LABEL_FONT + 'px ' + FONT, fill: color, align: 'center', verticalAlign: 'middle' } });
        } else {
          ch.push({ type: 'line', shape: { x1: p[0], y1: cs.y, x2: p[0], y2: p[1] }, style: dash });
          ch.push({ type: 'line', shape: { x1: p[0], y1: bottom, x2: p[0], y2: bottom + 10 }, style: { stroke: color, lineWidth: 2.6 } });
          ch.push({ type: 'text', x: p[0], y: cs.y + 33,
            style: { text: text, rich: rich, font: LABEL_FONT + 'px ' + FONT, fill: color, align: 'center', verticalAlign: 'middle' } });
        }
        return { type: 'group', children: ch };
      } },
    // colour bar
    { type: 'custom', xAxisIndex: 2, yAxisIndex: 2, silent: true, z: 1, encode: { x: 0, y: 1 },
      data: [[0, 0]],
      renderItem(params) {
        const cs = params.coordSys;
        return { type: 'rect', shape: { x: cs.x, y: cs.y, width: cs.width, height: cs.height },
          style: { fill: { type: 'linear', x: 0, y: 0, x2: 1, y2: 0, colorStops: barStops } } };
      } }
  ],
  graphic: [
    // slide frame around the figure
    { type: 'rect', z: 200, shape: { x: 0, y: 0, width: 1850, height: 11 }, style: { fill: '#25272d' } },
    { type: 'rect', z: 200, shape: { x: 0, y: 0, width: 8, height: 1242 }, style: { fill: '#25272d' } },
    { type: 'rect', z: 200, shape: { x: 1832, y: 0, width: 18, height: 1112 }, style: { fill: '#25272d' } },
    { type: 'text', z: 201, x: 130, y: 18, style: { text: 'Line detection', font: '60px ' + FONT, fill: '#dcdcdc', verticalAlign: 'bottom' } },
    // axis titles and panel tags
    { type: 'text', z: 100, x: 1004, y: 27, style: { text: 'Angstrom', font: '28px ' + FONT, fill: '#000', align: 'center', verticalAlign: 'middle' } },
    { type: 'text', z: 100, x: 86, y: 342, rotation: Math.PI / 2,
      style: { text: '{b|counts s}{s|−1}{b| keV}{s|−1}', align: 'center', verticalAlign: 'middle',
        rich: { b: { fontSize: 29, fontFamily: FONT, fill: '#000', lineHeight: 34 }, s: { fontSize: 20, fontFamily: FONT, fill: '#000', lineHeight: 14, verticalAlign: 'top' } } } },
    { type: 'text', z: 100, x: 50, y: 840, rotation: Math.PI / 2,
      style: { text: 'Gaussian line normalisation\nin units of local continuum Flux', font: '29px ' + FONT, fill: '#000',
        align: 'center', verticalAlign: 'middle', lineHeight: 31 } },
    { type: 'text', z: 100, x: 211, y: 565, style: { text: 'A', font: '48px ' + FONT, fill: '#000', verticalAlign: 'middle' } },
    { type: 'text', z: 100, x: 211, y: 1070, style: { text: 'B', font: '48px ' + FONT, fill: '#000', verticalAlign: 'middle' } },
    // legend, panel A
    { type: 'group', z: 100, children: [
      { type: 'rect', shape: { x: 1678, y: 96, width: 127, height: 102, r: 5 }, style: { fill: 'rgba(255,255,255,0.85)', stroke: '#cccccc', lineWidth: 1.2 } },
      { type: 'line', shape: { x1: 1684, y1: 110, x2: 1716, y2: 110 }, style: { stroke: '#4b4bd0', lineWidth: 1.8, lineDash: [2, 2.5] } },
      { type: 'line', shape: { x1: 1684, y1: 134, x2: 1716, y2: 134 }, style: { stroke: '#4b4bd0', lineWidth: 1.8, lineDash: [2, 2.5] } },
      { type: 'line', shape: { x1: 1692, y1: 159, x2: 1711, y2: 159 }, style: { stroke: '#000', lineWidth: 1.6 } },
      { type: 'line', shape: { x1: 1701.5, y1: 150, x2: 1701.5, y2: 168 }, style: { stroke: '#000', lineWidth: 1.6 } },
      { type: 'line', shape: { x1: 1692, y1: 184, x2: 1711, y2: 184 }, style: { stroke: '#ff0000', lineWidth: 1.6 } },
      { type: 'line', shape: { x1: 1701.5, y1: 175, x2: 1701.5, y2: 193 }, style: { stroke: '#ff0000', lineWidth: 1.6 } },
      { type: 'text', x: 1731, y: 110, style: { text: 'diskbb', font: '16.5px ' + FONT, fill: '#222', verticalAlign: 'middle' } },
      { type: 'text', x: 1731, y: 134, style: { text: 'diskbb', font: '16.5px ' + FONT, fill: '#222', verticalAlign: 'middle' } },
      { type: 'text', x: 1731, y: 159, style: { text: 'group 1', font: '16.5px ' + FONT, fill: '#222', verticalAlign: 'middle' } },
      { type: 'text', x: 1731, y: 184, style: { text: 'group 2', font: '16.5px ' + FONT, fill: '#222', verticalAlign: 'middle' } }
    ] },
    // legend, panel B
    { type: 'group', z: 100, children: [
      { type: 'rect', shape: { x: 205, y: 601, width: 279, height: 156, r: 5 }, style: { fill: 'rgba(255,255,255,0.85)', stroke: '#cccccc', lineWidth: 1.2 } },
      { type: 'line', shape: { x1: 210, y1: 615, x2: 246, y2: 615 }, style: { stroke: '#000', lineWidth: 2.6 } },
      { type: 'line', shape: { x1: 210, y1: 640, x2: 246, y2: 640 }, style: { stroke: '#000', lineWidth: 2.6, lineDash: [9, 4] } },
      { type: 'line', shape: { x1: 211, y1: 664, x2: 246, y2: 664 }, style: { stroke: '#000', lineWidth: 2.8, lineDash: [2.5, 6.5] } },
      { type: 'line', shape: { x1: 210, y1: 689, x2: 246, y2: 689 }, style: { stroke: '#666', lineWidth: 1, lineDash: [3, 2] } },
      { type: 'polygon', shape: { points: X_MARK.map(q => [221 + q[0] * 1.4, 709.5 + q[1] * 1.4]) }, style: { fill: '#000' } },
      { type: 'line', shape: { x1: 210, y1: 742, x2: 246, y2: 742 }, style: { stroke: '#000', lineWidth: 2.6 } },
      { type: 'text', x: 259, y: 615, style: { text: '99% conf. with 2 d.o.f.', font: '16.5px ' + FONT, fill: '#222', verticalAlign: 'middle' } },
      { type: 'text', x: 259, y: 640, style: { text: '90% conf. with 2 d.o.f.', font: '16.5px ' + FONT, fill: '#222', verticalAlign: 'middle' } },
      { type: 'text', x: 259, y: 664, style: { text: '68% conf. with 2 d.o.f.', font: '16.5px ' + FONT, fill: '#222', verticalAlign: 'middle' } },
      { type: 'text', x: 259, y: 689, style: { text: 'base level (Δ{i|C} = 0.5)', font: '16.5px ' + FONT, fill: '#222', verticalAlign: 'middle',
        rich: { i: { fontStyle: 'italic', fontSize: 16.5, fontFamily: FONT, fill: '#222' } } } },
      { type: 'text', x: 259, y: 716, style: { text: 'peak', font: '16.5px ' + FONT, fill: '#222', verticalAlign: 'middle' } },
      { type: 'text', x: 259, y: 742, style: { text: 'max peak structure width', font: '16.5px ' + FONT, fill: '#222', verticalAlign: 'middle' } }
    ] }
  ]
};
chart.setOption(option);
</script>
</body>
</html>
